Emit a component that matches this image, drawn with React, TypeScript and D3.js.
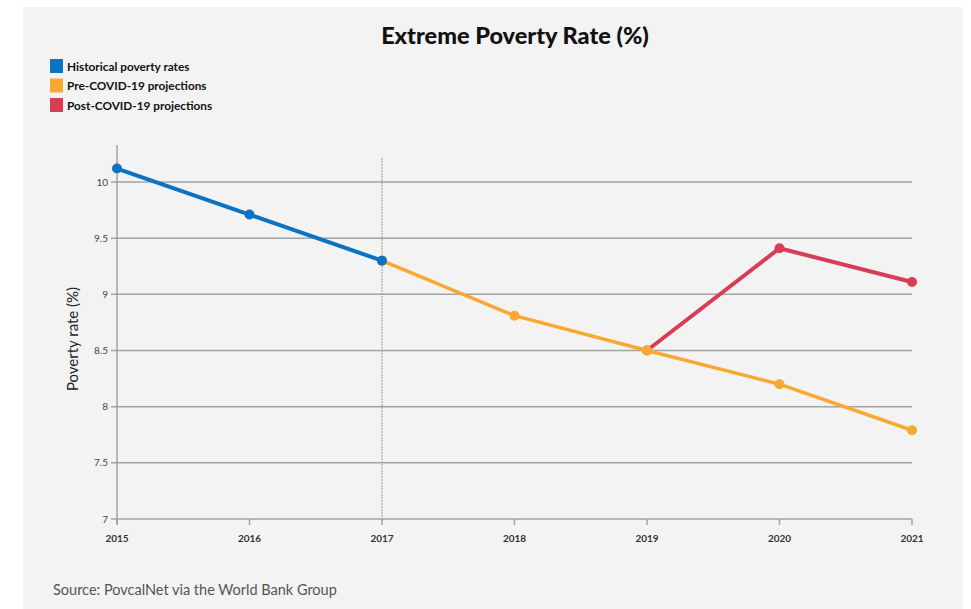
import React from 'react'
import * as d3 from 'd3'

const years = [2015, 2016, 2017, 2018, 2019, 2020, 2021]
const yTicks = [7, 7.5, 8, 8.5, 9, 9.5, 10]

const historical = [
  { year: 2015, value: 10.12 },
  { year: 2016, value: 9.71 },
  { year: 2017, value: 9.3 },
]
const preCovid = [
  { year: 2017, value: 9.3 },
  { year: 2018, value: 8.81 },
  { year: 2019, value: 8.5 },
  { year: 2020, value: 8.2 },
  { year: 2021, value: 7.79 },
]
const postCovid = [
  { year: 2019, value: 8.5 },
  { year: 2020, value: 9.41 },
  { year: 2021, value: 9.11 },
]

const legendItems = [
  { label: 'Historical poverty rates', color: '#0b73c3' },
  { label: 'Pre-COVID-19 projections', color: '#f9a832' },
  { label: 'Post-COVID-19 projections', color: '#d83d56' },
]

interface Point {
  year: number
  value: number
}

const App: React.FC = () => {
  const width = 971
  const height = 609
  const font = 'Lato, "Open Sans", sans-serif'

  const xScale = d3.scaleLinear().domain([2015, 2021]).range([117, 912])
  const yScale = d3.scaleLinear().domain([7, 10]).range([519, 182])

  const line = d3
    .line<Point>()
    .x((d) => xScale(d.year))
    .y((d) => yScale(d.value))

  // drawing order: red under orange, blue on top
  const series = [
    { data: postCovid, color: legendItems[2].color, w: 4 },
    { data: preCovid, color: legendItems[1].color, w: 3.5 },
    { data: historical, color: legendItems[0].color, w: 4 },
  ]

  return (
    <div style={{ position: 'fixed', left: 0, top: 0 }}>
      <svg width={width} height={height} style={{ display: 'block', background: '#fff' }}>
        <rect x={23} y={7} width={940} height={height - 7} fill="#f3f3f3" />

        <text x={515} y={44} textAnchor="middle" fontFamily={font} fontWeight={900} fontSize={23.5} fill="#111">
          Extreme Poverty Rate (%)
        </text>

        {legendItems.map((item, i) => (
          <g key={item.label} transform={`translate(50, ${59 + i * 19.5})`}>
            <rect width={13} height={14} fill={item.color} />
            <text x={17} y={11.5} fontFamily={font} fontWeight={700} fontSize={11.8} fill="#111">
              {item.label}
            </text>
          </g>
        ))}

        {/* gridlines */}
        {yTicks.map((t) => (
          <g key={t}>
            <line x1={xScale(2015) - 6} x2={xScale(2021)} y1={yScale(t)} y2={yScale(t)} stroke="#a3a3a3" strokeWidth={1.5} />
            <text x={xScale(2015) - 9} y={yScale(t) + 3.5} textAnchor="end" fontFamily={font} fontSize={10} fill="#444">
              {t}
            </text>
          </g>
        ))}

        {/* y axis line */}
        <line x1={xScale(2015)} x2={xScale(2015)} y1={145} y2={yScale(7) + 6} stroke="#a3a3a3" strokeWidth={1.5} />

        {/* 2017 marker line */}
        <line
          x1={xScale(2017)}
          x2={xScale(2017)}
          y1={158}
          y2={yScale(7)}
          stroke="#9a9a9a"
          strokeWidth={1}
          strokeDasharray="2 1"
        />

        {/* x ticks */}
        {years.map((y) => (
          <g key={y}>
            <line x1={xScale(y)} x2={xScale(y)} y1={yScale(7)} y2={yScale(7) + 6} stroke="#a3a3a3" strokeWidth={1.5} />
            <text x={xScale(y)} y={yScale(7) + 23} textAnchor="middle" fontFamily={font} fontWeight={700} fontSize={10} fill="#333">
              {y}
            </text>
          </g>
        ))}

        {series.map((s, i) => (
          <g key={i}>
            <path d={line(s.data) || ''} fill="none" stroke={s.color} strokeWidth={s.w} />
            {s.data.map((d) => (
              <circle key={d.year} cx={xScale(d.year)} cy={yScale(d.value)} r={5} fill={s.color} />
            ))}
          </g>
        ))}

        <text
          transform="translate(78, 339) rotate(-90)"
          textAnchor="middle"
          fontFamily={font}
          fontSize={15}
          fill="#222"
        >
          Poverty rate (%)
        </text>

        <text x={53} y={595} fontFamily={font} fontSize={14.5} fill="#555">
          Source: PovcalNet via the World Bank Group
        </text>
      </svg>
    </div>
  )
}

export default App
